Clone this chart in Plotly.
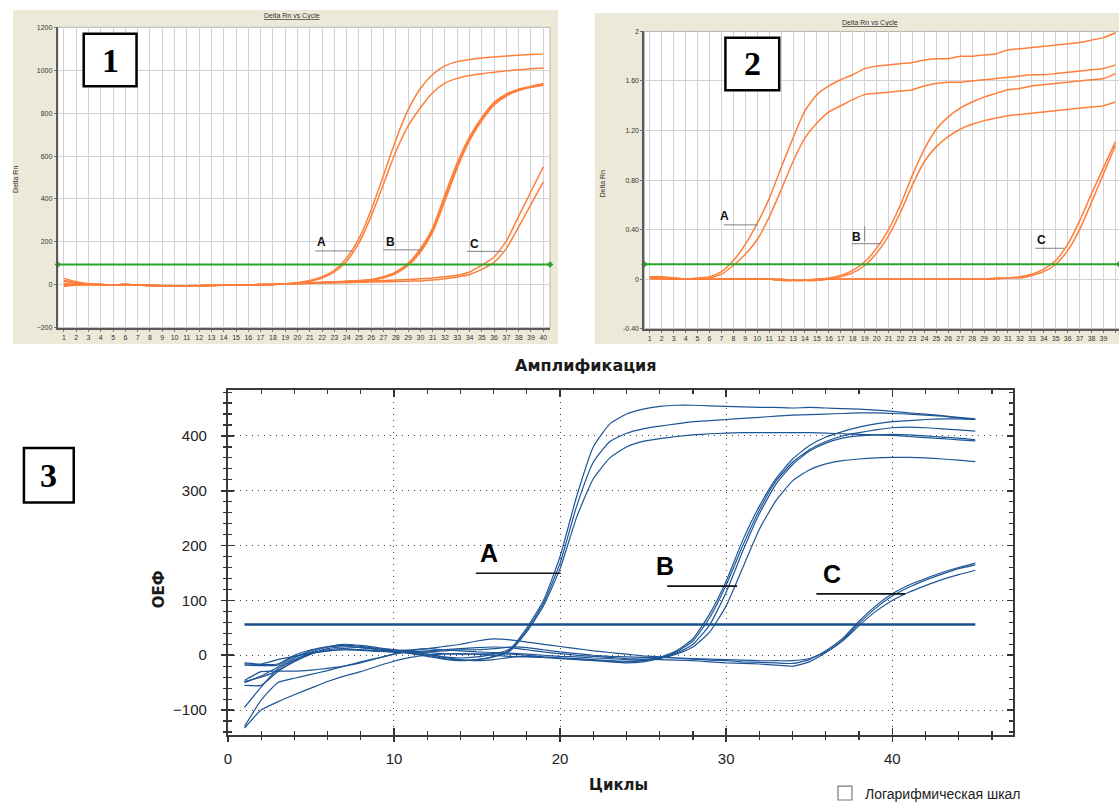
import plotly.graph_objects as go

# ---------------- data ----------------
cycles40 = list(range(1, 41))
cycles45 = list(range(1, 46))

# Panel 1 (Delta Rn, orange)
p1_A1 = [30, 15, 5, 2, 0, 2, -1, -3, -5, -5,
         -5, -4, -3, -2, -2, -1, 0, 2, 5, 10,
         20, 38, 68, 125, 215, 350, 510, 675, 815, 915,
         980, 1020, 1040, 1050, 1057, 1062, 1066, 1070, 1073, 1075]
p1_A2 = [15, 8, 3, 1, 0, 1, -2, -4, -5, -6,
         -5, -4, -3, -2, -1, -1, 0, 2, 4, 8,
         17, 32, 60, 110, 195, 320, 470, 620, 740, 825,
         895, 940, 962, 975, 984, 991, 997, 1002, 1007, 1010]
p1_B1 = [-5, 0, 2, 1, 0, 2, 0, -2, -4, -4,
         -4, -3, -3, -2, -1, 0, 1, 3, 5, 8,
         10, 12, 14, 17, 20, 25, 38, 60, 100, 168,
         265, 420, 570, 690, 780, 850, 890, 912, 925, 938]
p1_B2 = [5, 3, 2, 1, 0, 1, -1, -2, -3, -4,
         -4, -4, -3, -2, -1, 0, 1, 2, 4, 7,
         9, 11, 13, 16, 19, 23, 35, 56, 95, 160,
         255, 405, 555, 680, 772, 843, 885, 908, 922, 933]
p1_B3 = [0, 2, 1, 0, 0, 1, -1, -3, -4, -5,
         -5, -4, -3, -2, -1, 0, 1, 2, 4, 6,
         8, 10, 12, 15, 18, 22, 33, 53, 90, 152,
         245, 392, 545, 672, 765, 838, 880, 905, 920, 930]
p1_C1 = [20, 10, 4, 1, 0, 1, -1, -3, -5, -5,
         -4, -4, -3, -2, -1, 0, 1, 2, 4, 6,
         8, 10, 12, 14, 16, 18, 20, 22, 25, 28,
         32, 38, 45, 60, 92, 130, 205, 320, 435, 550]
p1_C2 = [-5, -2, 0, 0, 0, 1, -1, -3, -4, -5,
         -5, -4, -3, -2, -1, 0, 1, 2, 3, 5,
         6, 8, 9, 10, 12, 13, 14, 15, 17, 18,
         22, 28, 36, 48, 72, 105, 170, 270, 375, 480]
p1_threshold = 95
p1_lbl_text = ["A", "B", "C"]
p1_lbl_x = [21.96, 27.57, 34.4]
p1_lbl_y = [198, 200, 191]
p1_lbl_x0 = [21.46, 26.97, 33.8]
p1_lbl_x1 = [24.5, 30.17, 36.7]
p1_lbl_ly = [158, 163, 156]

# Panel 2 (Delta Rn, orange)
p2_A1 = [0.02, 0.02, 0.01, 0.0, 0.01, 0.02, 0.06, 0.15, 0.28, 0.45,
         0.65, 0.90, 1.14, 1.36, 1.49, 1.56, 1.61, 1.65, 1.70, 1.72,
         1.73, 1.74, 1.75, 1.77, 1.78, 1.78, 1.80, 1.80, 1.81, 1.82,
         1.85, 1.86, 1.87, 1.88, 1.89, 1.90, 1.91, 1.93, 1.95, 1.99]
p2_A2 = [0.01, 0.01, 0.01, 0.0, 0.0, 0.01, 0.04, 0.11, 0.20, 0.32,
         0.50, 0.72, 0.95, 1.14, 1.26, 1.35, 1.40, 1.45, 1.49, 1.50,
         1.51, 1.52, 1.53, 1.56, 1.58, 1.59, 1.59, 1.60, 1.61, 1.62,
         1.63, 1.64, 1.65, 1.65, 1.66, 1.67, 1.68, 1.69, 1.70, 1.73]
p2_B1 = [0.01, 0.01, 0.0, 0.0, 0.0, 0.0, 0.0, 0.0, 0.0, 0.0,
         0.0, -0.01, -0.01, -0.01, 0.0, 0.01, 0.03, 0.07, 0.14, 0.25,
         0.40, 0.60, 0.84, 1.05, 1.21, 1.31, 1.38, 1.43, 1.47, 1.50,
         1.53, 1.54, 1.56, 1.57, 1.58, 1.59, 1.60, 1.61, 1.62, 1.66]
p2_B2 = [0.01, 0.0, 0.0, 0.0, 0.0, 0.0, 0.0, 0.0, 0.0, 0.0,
         0.0, -0.01, -0.01, -0.01, 0.0, 0.0, 0.02, 0.05, 0.11, 0.21,
         0.35, 0.54, 0.76, 0.95, 1.07, 1.15, 1.21, 1.25, 1.28, 1.30,
         1.32, 1.33, 1.34, 1.35, 1.36, 1.37, 1.38, 1.39, 1.40, 1.43]
p2_C1 = [0.02, 0.01, 0.01, 0.0, 0.0, 0.0, 0.0, 0.0, 0.0, 0.0,
         0.0, -0.01, -0.01, -0.01, -0.01, 0.0, 0.0, 0.0, 0.0, 0.0,
         0.0, 0.0, 0.0, 0.0, 0.0, 0.0, 0.0, 0.0, 0.0, 0.01,
         0.01, 0.02, 0.04, 0.08, 0.15, 0.28, 0.47, 0.69, 0.90, 1.11]
p2_C2 = [0.0, 0.0, 0.0, 0.0, 0.0, 0.0, 0.0, 0.0, 0.0, 0.0,
         0.0, 0.0, -0.01, -0.01, -0.01, 0.0, 0.0, 0.0, 0.0, 0.0,
         0.0, 0.0, 0.0, 0.0, 0.0, 0.0, 0.0, 0.0, 0.0, 0.0,
         0.01, 0.01, 0.03, 0.06, 0.12, 0.23, 0.40, 0.62, 0.85, 1.08]
p2_threshold = 0.12
p2_ytick_vals = [-0.4, 0, 0.4, 0.8, 1.2, 1.6, 2]
p2_ytick_text = ["-0.40", "0", "0.40", "0.80", "1.20", "1.60", "2"]
p2_lbl_text = ["A", "B", "C"]
p2_lbl_x = [7.27, 18.3, 33.8]
p2_lbl_y = [0.506, 0.338, 0.314]
p2_lbl_x0 = [7.2, 17.9, 33.3]
p2_lbl_x1 = [10.0, 20.4, 35.7]
p2_lbl_ly = [0.438, 0.286, 0.249]
p2_tick_x = [19.0, 19.0]
p2_tick_y = [0.426, 0.306]

# Panel 3 (ОЕФ, blue)
p3_A1 = [-18, -19, -18, -2, 5, 8, 10, 9, 7, 6,
         5, 2, -3, -5, -3, 2, 12, 50, 100, 180,
         290, 380, 422, 440, 449, 454, 456, 456, 455, 454,
         453, 452, 452, 451, 452, 451, 450, 449, 447, 445,
         442, 440, 437, 434, 431]
p3_A2 = [-50, -38, -22, -5, 8, 15, 17, 14, 10, 7,
         4, 0, -6, -9, -8, -2, 10, 46, 95, 168,
         272, 352, 390, 405, 413, 418, 422, 426, 428, 430,
         432, 434, 436, 438, 439, 440, 441, 442, 442, 441,
         440, 438, 436, 433, 430]
p3_A3 = [-95, -58, -25, -8, 3, 10, 12, 10, 8, 6,
         3, -2, -7, -10, -8, -3, 8, 43, 90, 158,
         252, 322, 360, 380, 390, 395, 399, 402, 404, 405,
         406, 406, 406, 406, 406, 405, 404, 403, 402, 401,
         399, 397, 395, 393, 391]
p3_B1 = [-16, -17, -16, 0, 10, 16, 18, 16, 12, 8,
         10, 12, 10, 8, 6, 5, 4, 2, 0, -2,
         -3, -5, -6, -8, -8, -4, 8, 30, 75, 135,
         210, 272, 322, 358, 382, 398, 408, 416, 422, 426,
         428, 430, 431, 431, 430]
p3_B2 = [-48, -40, -28, -10, 5, 15, 20, 18, 14, 10,
         8, 5, 3, 2, 2, 3, 2, 0, -3, -5,
         -7, -9, -11, -12, -10, -5, 6, 26, 68, 128,
         200, 265, 318, 352, 375, 390, 400, 406, 411, 415,
         416, 415, 413, 411, 409]
p3_B3 = [-55, -55, -30, -12, 2, 12, 15, 14, 12, 10,
         6, 2, -4, -8, -10, -8, -4, -2, -4, -6,
         -8, -10, -12, -14, -12, -6, 4, 20, 55, 115,
         190, 258, 312, 348, 372, 387, 396, 400, 402, 403,
         402, 400, 398, 396, 393]
p3_B4 = [-133, -100, -85, -72, -60, -48, -38, -30, -20, -11,
         -4, 0, 2, 3, 2, 0, -2, -3, -4, -5,
         -6, -8, -10, -11, -10, -6, 2, 15, 42, 90,
         160, 230, 282, 318, 338, 349, 355, 358, 360, 361,
         361, 360, 358, 356, 353]
p3_C1 = [-130, -82, -50, -42, -35, -28, -20, -12, -5, 2,
         8, 12, 16, 20, 26, 30, 28, 24, 20, 16,
         12, 8, 5, 2, -1, -3, -5, -7, -9, -10,
         -12, -13, -14, -15, -8, 8, 30, 62, 90, 112,
         128, 140, 151, 160, 168]
p3_C2 = [-46, -30, -29, -29, -27, -24, -20, -14, -6, 2,
         6, 8, 10, 12, 14, 15, 14, 10, 6, 3,
         0, -2, -4, -6, -7, -8, -9, -10, -12, -14,
         -15, -16, -18, -20, -12, 5, 27, 58, 86, 108,
         124, 137, 148, 158, 165]
p3_C3 = [-14, -16, -8, -2, 3, 8, 10, 10, 8, 6,
         5, 6, 8, 10, 10, 12, 15, 14, 10, 6,
         3, 0, -2, -3, -4, -4, -5, -6, -7, -8,
         -9, -10, -10, -10, -6, 6, 26, 54, 80, 100,
         115, 127, 138, 147, 155]
p3_threshold = 56
p3_threshold_x = [1, 45]
p3_lbl_text = ["A", "B", "C"]
p3_lbl_x = [15.7, 26.3, 36.4]
p3_lbl_y = [186, 163, 148]
p3_lbl_x0 = [14.93, 26.45, 35.43]
p3_lbl_x1 = [20.04, 30.66, 40.77]
p3_lbl_ly = [149.5, 126, 112]

# ---------------- figure ----------------
W, H = 1119, 804


def px(x):
    return x / W


def py(y):
    return 1 - y / H


ORANGE = "#FF7F3A"
GREEN = "#2AA52A"
BLUE = "#1d5596"
SMALL = dict(family="Liberation Sans, Arial, sans-serif", size=7, color="#333333")

X1_RANGE = [0.5, 40.55]
X2_RANGE = [0.55, 40.3]
X3_RANGE = [0, 47.25]
Y3_RANGE = [-146, 484]

fig = go.Figure()

# panel 1 curves
for ys in [p1_C2, p1_C1, p1_B3, p1_B2, p1_B1, p1_A2, p1_A1]:
    fig.add_trace(go.Scatter(x=cycles40, y=ys, mode="lines", xaxis="x", yaxis="y",
                             line=dict(color=ORANGE, width=1.5, shape="spline", smoothing=0.6),
                             hoverinfo="skip"))
fig.add_trace(go.Scatter(x=X1_RANGE, y=[p1_threshold, p1_threshold], mode="lines+markers",
                         xaxis="x", yaxis="y", cliponaxis=False,
                         line=dict(color=GREEN, width=2),
                         marker=dict(symbol="diamond", size=5, color=GREEN), hoverinfo="skip"))
for x0, x1, ly in zip(p1_lbl_x0, p1_lbl_x1, p1_lbl_ly):
    fig.add_trace(go.Scatter(x=[x0, x1], y=[ly, ly], mode="lines", xaxis="x", yaxis="y",
                             line=dict(color="#808080", width=1), hoverinfo="skip"))

# panel 2 curves
for ys in [p2_C2, p2_C1, p2_B2, p2_B1, p2_A2, p2_A1]:
    fig.add_trace(go.Scatter(x=cycles40, y=ys, mode="lines", xaxis="x2", yaxis="y2",
                             line=dict(color=ORANGE, width=1.5, shape="spline", smoothing=0.6),
                             hoverinfo="skip"))
fig.add_trace(go.Scatter(x=X2_RANGE, y=[p2_threshold, p2_threshold], mode="lines+markers",
                         xaxis="x2", yaxis="y2", cliponaxis=False,
                         line=dict(color=GREEN, width=2),
                         marker=dict(symbol="diamond", size=5, color=GREEN), hoverinfo="skip"))
for x0, x1, ly in zip(p2_lbl_x0, p2_lbl_x1, p2_lbl_ly):
    fig.add_trace(go.Scatter(x=[x0, x1], y=[ly, ly], mode="lines", xaxis="x2", yaxis="y2",
                             line=dict(color="#808080", width=1), hoverinfo="skip"))
fig.add_trace(go.Scatter(x=p2_tick_x, y=p2_tick_y, mode="lines", xaxis="x2", yaxis="y2",
                         line=dict(color="#808080", width=1), hoverinfo="skip"))

# panel 3 curves
for ys in [p3_C3, p3_C2, p3_C1, p3_B4, p3_B3, p3_B2, p3_B1, p3_A3, p3_A2, p3_A1]:
    fig.add_trace(go.Scatter(x=cycles45, y=ys, mode="lines", xaxis="x3", yaxis="y3",
                             line=dict(color=BLUE, width=1.2, shape="spline", smoothing=0.5),
                             hoverinfo="skip"))
fig.add_trace(go.Scatter(x=p3_threshold_x, y=[p3_threshold, p3_threshold], mode="lines",
                         xaxis="x3", yaxis="y3", line=dict(color="#1a4f8e", width=2.6),
                         hoverinfo="skip"))
for x0, x1, ly in zip(p3_lbl_x0, p3_lbl_x1, p3_lbl_ly):
    fig.add_trace(go.Scatter(x=[x0, x1], y=[ly, ly], mode="lines", xaxis="x3", yaxis="y3",
                             line=dict(color="#111111", width=1.6), hoverinfo="skip"))
# empty trace carrying the overlay tick axes
fig.add_trace(go.Scatter(x=[], y=[], xaxis="x4", yaxis="y4", hoverinfo="skip"))

small_axis = dict(showgrid=True, gridcolor="#d2d2d2", gridwidth=1, zeroline=False,
                  showline=True, linecolor="#5a5a5a", linewidth=2,
                  ticks="outside", ticklen=2, tickcolor="#777777", tickfont=SMALL,
                  fixedrange=True)

big_font = dict(family="Liberation Sans Narrow, Liberation Sans, Arial, sans-serif",
                size=15, color="#222222")

layout = dict(
    width=W, height=H, margin=dict(l=0, r=0, t=0, b=0),
    paper_bgcolor="white", plot_bgcolor="white", showlegend=False,
    xaxis=dict(domain=[px(54), px(548)], range=X1_RANGE, anchor="y",
               tickmode="array", tickvals=cycles40, ticktext=[str(c) for c in cycles40],
               **small_axis),
    yaxis=dict(domain=[py(326.6), py(23.5)], range=[-200, 1200], anchor="x",
               tickmode="array", tickvals=[-200, 0, 200, 400, 600, 800, 1000, 1200],
               **small_axis),
    xaxis2=dict(domain=[px(642.7), 1.0], range=X2_RANGE, anchor="y2",
                tickmode="array", tickvals=cycles40, ticktext=[str(c) for c in cycles40],
                **small_axis),
    yaxis2=dict(domain=[py(327.5), py(27.7)], range=[-0.4, 2.0], anchor="x2",
                tickmode="array", tickvals=p2_ytick_vals, ticktext=p2_ytick_text,
                **small_axis),
    xaxis3=dict(domain=[px(224.7), px(1012.3)], range=X3_RANGE, anchor="y3",
                tickmode="array", tickvals=[0, 10, 20, 30, 40],
                showgrid=True, gridcolor="#444444", griddash="1px,5px", gridwidth=1,
                zeroline=False, showline=True, linecolor="#3a3a3a", linewidth=2,
                mirror="ticks", ticks="inside", ticklen=7, tickwidth=1.5, tickcolor="#333333",
                minor=dict(dtick=2, tick0=0, ticks="inside", ticklen=4, tickwidth=1.2,
                           tickcolor="#333333", showgrid=False),
                tickfont=big_font, ticklabelstandoff=9, fixedrange=True),
    yaxis3=dict(domain=[py(737.7), py(389.3)], range=Y3_RANGE, anchor="x3",
                tickmode="array", tickvals=[-100, 0, 100, 200, 300, 400],
                showgrid=True, gridcolor="#444444", griddash="1px,5px", gridwidth=1,
                zeroline=False, showline=True, linecolor="#3a3a3a", linewidth=2,
                mirror="ticks", ticks="inside", ticklen=6, tickwidth=1.5, tickcolor="#333333",
                minor=dict(dtick=20, tick0=0, ticks="inside", ticklen=4, tickwidth=1.2,
                           tickcolor="#333333", showgrid=False),
                tickfont=big_font, ticklabelstandoff=16, fixedrange=True),
    xaxis4=dict(overlaying="x3", anchor="y3", range=X3_RANGE, side="bottom",
                tickmode="array", tickvals=[0, 10, 20, 30, 40],
                ticks="outside", ticklen=6, tickwidth=1.5, tickcolor="#333333",
                minor=dict(dtick=2, tick0=0, ticks="outside", ticklen=4, tickwidth=1.2,
                           tickcolor="#333333", showgrid=False),
                showticklabels=False, showgrid=False, zeroline=False, showline=False,
                fixedrange=True),
    yaxis4=dict(overlaying="y3", anchor="x3", range=Y3_RANGE, side="left",
                tickmode="array", tickvals=[-100, 0, 100, 200, 300, 400],
                ticks="outside", ticklen=6, tickwidth=1.5, tickcolor="#333333",
                minor=dict(dtick=20, tick0=0, ticks="outside", ticklen=4, tickwidth=1.2,
                           tickcolor="#333333", showgrid=False),
                showticklabels=False, showgrid=False, zeroline=False, showline=False,
                fixedrange=True),
)

shapes = [
    # beige panels
    dict(type="rect", xref="paper", yref="paper", x0=px(9), x1=px(556), y0=py(343), y1=py(6),
         fillcolor="#ECE9D8", line=dict(width=0), layer="below"),
    dict(type="rect", xref="paper", yref="paper", x0=px(593), x1=px(1125), y0=py(343), y1=py(9),
         fillcolor="#ECE9D8", line=dict(width=0), layer="below"),
    # white plot areas
    dict(type="rect", xref="x domain", yref="y domain", x0=0, x1=1, y0=0, y1=1,
         fillcolor="white", line=dict(color="#b4b4b4", width=1), layer="below"),
    dict(type="rect", xref="x2 domain", yref="y2 domain", x0=0, x1=1.01, y0=0, y1=1,
         fillcolor="white", line=dict(color="#b4b4b4", width=1), layer="below"),
    # number boxes
    dict(type="rect", xref="paper", yref="paper", x0=px(80), x1=px(133), y0=py(83), y1=py(30),
         fillcolor="white", line=dict(color="black", width=2.5), layer="above"),
    dict(type="rect", xref="paper", yref="paper", x0=px(724), x1=px(778), y0=py(87), y1=py(34),
         fillcolor="white", line=dict(color="black", width=2.5), layer="above"),
    dict(type="rect", xref="paper", yref="paper", x0=px(20), x1=px(70), y0=py(503), y1=py(448),
         fillcolor="white", line=dict(color="black", width=2.5), layer="above"),
    # checkbox
    dict(type="rect", xref="paper", yref="paper", x0=px(837), x1=px(851), y0=py(803), y1=py(789),
         fillcolor="white", line=dict(color="#7a7a7a", width=1.2), layer="above"),
]


def ann(text, x, y, font, **kw):
    d = dict(text=text, x=x, y=y, xref="paper", yref="paper", showarrow=False, font=font,
             xanchor="center", yanchor="middle")
    d.update(kw)
    return d


serif = dict(family="Liberation Serif, Times New Roman, serif", size=34, color="black")
bold_cyr = dict(family="DejaVu Sans, Liberation Sans, sans-serif", size=15, color="#1a1a1a")

annotations = [
    ann("<u>Delta Rn vs Cycle</u>", px(289), py(11.7), SMALL),
    ann("<u>Delta Rn vs Cycle</u>", px(869), py(19.4), SMALL),
    ann("Delta Rn", px(11.5), py(177), SMALL, textangle=-90),
    ann("Delta Rn", px(601), py(181), SMALL, textangle=-90),
    ann("<b>1</b>", px(106.5), py(56.5), serif),
    ann("<b>2</b>", px(751), py(60.5), serif),
    ann("<b>3</b>", px(45), py(475.5), serif),
    ann("<b>Амплификация</b>", px(584.5), py(365), dict(bold_cyr, size=16)),
    ann("<b>ОЕФ</b>", px(155), py(590), bold_cyr, textangle=-90),
    ann("<b>Циклы</b>", px(617), py(788), bold_cyr),
    ann("Логарифмическая шкал", px(862), py(797),
        dict(family="Liberation Sans, Arial, sans-serif", size=14, color="#222222"),
        xanchor="left"),
]

lbl_small = dict(family="Liberation Sans, Arial, sans-serif", size=12, color="#111111")
lbl_big = dict(family="Liberation Sans, Arial, sans-serif", size=25, color="#000000")
for t, x, y in zip(p1_lbl_text, p1_lbl_x, p1_lbl_y):
    annotations.append(dict(text="<b>%s</b>" % t, x=x, y=y, xref="x", yref="y",
                            showarrow=False, font=lbl_small, xanchor="center", yanchor="middle"))
for t, x, y in zip(p2_lbl_text, p2_lbl_x, p2_lbl_y):
    annotations.append(dict(text="<b>%s</b>" % t, x=x, y=y, xref="x2", yref="y2",
                            showarrow=False, font=lbl_small, xanchor="center", yanchor="middle"))
for t, x, y in zip(p3_lbl_text, p3_lbl_x, p3_lbl_y):
    annotations.append(dict(text="<b>%s</b>" % t, x=x, y=y, xref="x3", yref="y3",
                            showarrow=False, font=lbl_big, xanchor="center", yanchor="middle"))

layout["shapes"] = shapes
layout["annotations"] = annotations
fig.update_layout(**layout)

fig.write_html("out.html", config={"displayModeBar": False, "staticPlot": True},
               post_script="document.body.style.margin='0px';document.body.style.padding='0px';")
